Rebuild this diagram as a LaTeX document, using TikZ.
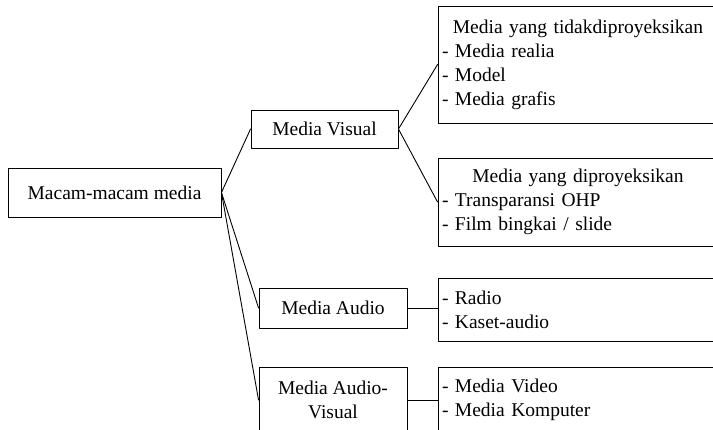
\documentclass[tikz,border=0pt]{standalone}
\usepackage{fontspec}
\setmainfont{Liberation Serif}
\begin{document}
\begin{tikzpicture}[x=1pt, y=-1pt, line join=round, line cap=round,
	font=\fontsize{19.5}{24}\selectfont,
	kotak/.style={draw, line width=0.9pt, inner sep=4pt, align=center},
	daftar/.style={draw, line width=0.9pt, inner sep=4pt, text width=272pt, align=left},
	garis/.style={line width=0.9pt}]
	\useasboundingbox (0,0) rectangle (713,429);
	\clip (0,0) rectangle (713,429);
	
	% Kotak utama dan jenis media
	\node[kotak, minimum width=213pt, minimum height=49pt] (akar) at (114.5,192.5) {Macam-macam media};
	\node[kotak, minimum width=147pt, minimum height=38pt] (visual) at (324.5,129) {Media Visual};
	\node[kotak, minimum width=148pt, minimum height=40pt] (audio) at (333,308) {Media Audio};
	\node[kotak, minimum width=148pt, minimum height=66pt] (audvis) at (333,400) {Media Audio-\\Visual};
	
	% Kotak rincian
	\node[daftar, minimum height=117pt] (tidakproy) at (578,64.5)
		{{\centering Media yang tidakdiproyeksikan\par}- Media realia\\- Model\\- Media grafis};
	\node[daftar, minimum height=88pt] (proy) at (578,202)
		{{\centering Media yang diproyeksikan\par}- Transparansi OHP\\- Film bingkai / slide};
	\node[daftar, minimum height=63pt] (listaudio) at (578,309.5) {- Radio\\- Kaset-audio};
	\node[daftar, minimum height=66pt] (listav) at (578,400) {- Media Video\\- Media Komputer};
	
	% Garis penghubung
	\draw[garis] (akar.east) -- (visual.west);
	\draw[garis] (akar.east) -- (audio.west);
	\draw[garis] (akar.east) -- (audvis.west);
	\draw[garis] (visual.east) -- (tidakproy.west);
	\draw[garis] (visual.east) -- (proy.west);
	\draw[garis] (audio.east) -- (audio.east -| listaudio.west);
	\draw[garis] (audvis.east) -- (listav.west);
\end{tikzpicture}
\end{document}
